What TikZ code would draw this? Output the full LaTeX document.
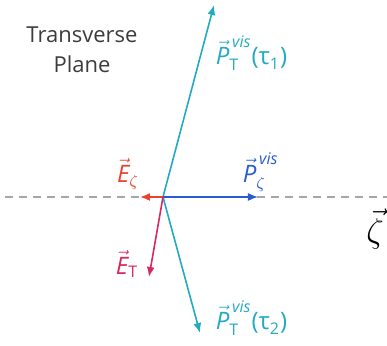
\documentclass[tikz,border=0pt]{standalone}
\usepackage{amsmath}
\usepackage{fontspec}
\setmainfont{Open Sans}
\usetikzlibrary{positioning,arrows.meta}
\definecolor{taucol}{RGB}{35,170,195}
\definecolor{pzcol}{RGB}{40,90,210}
\definecolor{ezcol}{RGB}{235,65,45}
\definecolor{etcol}{RGB}{215,40,95}
\definecolor{txtcol}{RGB}{60,60,60}
\newcommand{\Pvis}{\vec{\text{\itshape P}}}
\newcommand{\Evec}{\vec{\text{\itshape E}}}
\newcommand{\vis}{\,\text{\itshape vis}}

\begin{document}
\begin{tikzpicture}[x=0.5pt,y=-0.5pt,>={Latex[length=5pt,width=4pt]},line width=0.8pt,
        vec/.style={->},
        lbl/.style={inner sep=1pt,font=\fontsize{12}{14}\selectfont}]
        \useasboundingbox (0,0) rectangle (387,346);
        \coordinate (o) at (163,197);
        \coordinate (left) at (5,197);
        \coordinate (right) at (387,197);
        \coordinate (tau1) at (214,5);
        \coordinate (tau2) at (200,333);
        \coordinate (pz) at (258,197);
        \coordinate (ez) at (140,197);
        \coordinate (et) at (149,277);
        \draw[dashed,gray!70,line width=0.6pt,dash pattern=on 4pt off 3pt] (left) -- (right);
        \draw[vec,taucol] (o) -- (tau1);
        \draw[vec,taucol] (o) -- (tau2);
        \draw[vec,pzcol] (o) -- (pz);
        \draw[vec,ezcol] (o) -- (ez);
        \draw[vec,etcol] (o) -- (et);
        \node[lbl,txtcol,align=center,font=\fontsize{11}{15}\selectfont] (plane) at (82,50) {Transverse\\Plane};
        \node[lbl,taucol,anchor=west] (ptau1) at (213,53) {$\Pvis^{\vis}_{\text{T}}\text{(τ}_{\text{1}}\text{)}$};
        \node[lbl,taucol,anchor=west] (ptau2) at (213,318) {$\Pvis^{\vis}_{\text{T}}\text{(τ}_{\text{2}}\text{)}$};
        \node[lbl,pzcol,anchor=west] (pzeta) at (240,172) {$\Pvis^{\vis}_{\zeta}$};
        \node[lbl,ezcol] (ezeta) at (128,174) {$\Evec_{\zeta}$};
        \node[lbl,etcol] (etrans) at (127,264) {$\Evec_{\text{T}}$};
        \node[lbl,black,font=\fontsize{16}{18}\selectfont] (zeta) at (375,229) {$\vec{\zeta}$};
    \end{tikzpicture}
\end{document}
